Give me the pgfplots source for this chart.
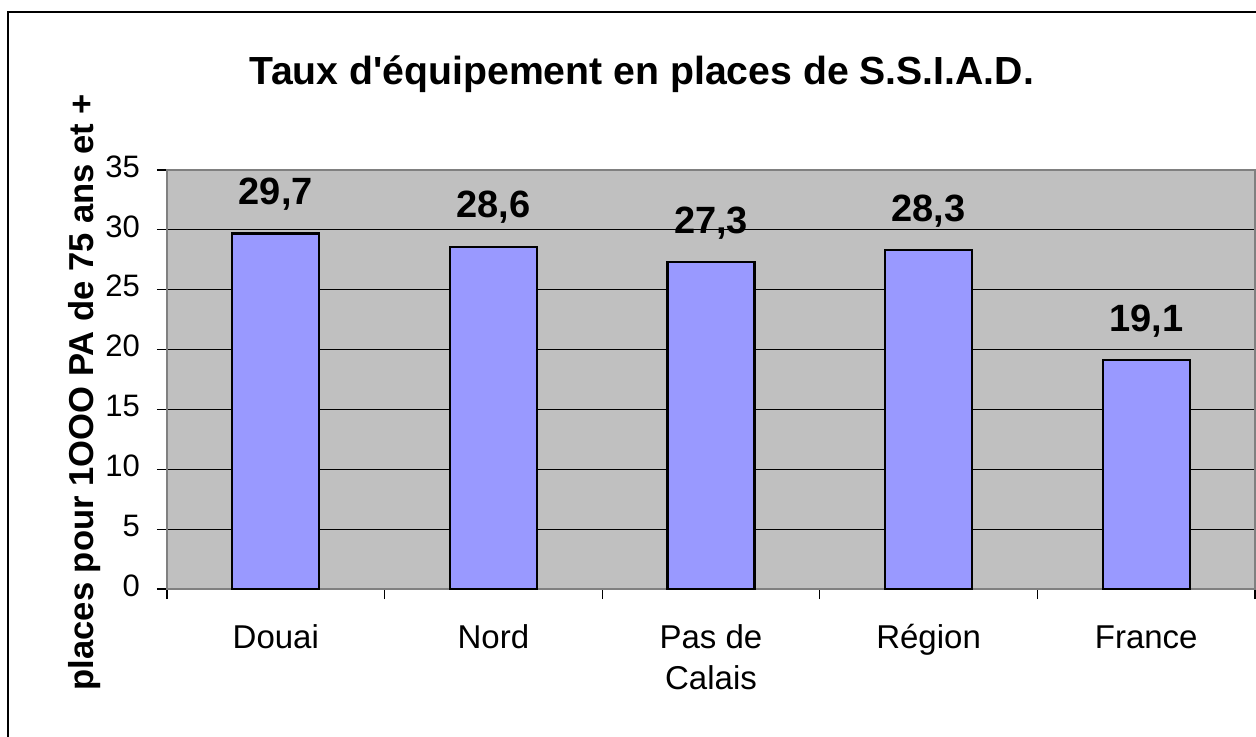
\documentclass[border=0pt]{standalone}
\usepackage{pgfplots}
\pgfplotsset{compat=1.18}
\usepackage{fontspec}
\setmainfont{Liberation Sans}
\definecolor{plotbg}{HTML}{C0C0C0}
\definecolor{barcol}{HTML}{9999FF}
\definecolor{frameg}{HTML}{808080}
\begin{document}
\begin{tikzpicture}[x=1pt,y=1pt]
\useasboundingbox (0,0) rectangle (628,-368);
\clip (0,0) rectangle (628,-368);
\draw[line width=1pt] (4,-400) -- (4,-6) -- (700,-6);
\node[font=\fontsize{19.6}{24}\selectfont\bfseries] at (321,-37) {Taux d\textquotesingle équipement en places de S.S.I.A.D.};
\begin{axis}[
  at={(83.5pt,-294.5pt)}, anchor=south west,
  scale only axis, width=544pt, height=209.5pt,
  xmin=-0.5, xmax=4.5, ymin=0, ymax=35,
  axis background/.style={fill=plotbg},
  axis line style={frameg, line width=0.8pt},
  /pgf/number format/assume math mode=true,
  ytick={0,5,...,35},
  ymajorgrids, grid style={black, line width=0.5pt},
  xtick={0,1,2,3,4},
  xticklabels={Douai,Nord,{Pas de\\Calais},Région,France},
  typeset ticklabels with strut,
  xticklabel style={align=center, font=\fontsize{16.5}{20.5}\selectfont, yshift=-7pt},
  yticklabel style={font=\fontsize{15.5}{18}\selectfont, xshift=-5pt},
  major x tick style={draw=none},
  minor xtick={-0.5,0.5,...,4.5},
  minor x tick style={black, line width=0.6pt},
  major y tick style={black, line width=0.6pt},
  tick align=outside,
  major tick length=5pt, minor tick length=5pt,
  xtick pos=bottom, ytick pos=left,
  ybar, bar width=43.5pt,
  nodes near coords={\pgfmathprintnumber[use comma,fixed,fixed zerofill,precision=1,assume math mode=true]{\pgfplotspointmeta}},
  nodes near coords style={font=\fontsize{19}{22}\selectfont\bfseries, yshift=7.5pt, text=black},
  ylabel={places pour 1OOO PA de 75 ans et +},
  ylabel style={font=\fontsize{17.3}{20}\selectfont\bfseries, at={(axis description cs:-0.0754,0.47)}, anchor=center},
  clip=false,
]
\addplot[fill=barcol, draw=black, line width=1.1pt] coordinates {(0,29.7) (1,28.6) (2,27.3) (3,28.3) (4,19.1)};
\end{axis}
\end{tikzpicture}
\end{document}
